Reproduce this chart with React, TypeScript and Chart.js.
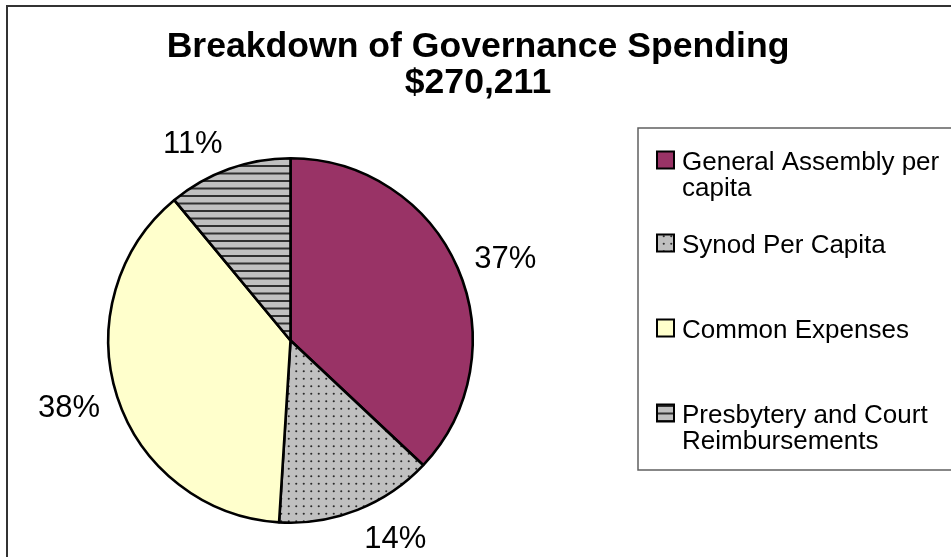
import { useEffect, useRef } from 'react';
import { Chart, registerables } from 'chart.js';

Chart.register(...registerables);

// ---- data ----
const titleLines = ['Breakdown of Governance Spending', '$270,211'];
const categories = [
  'General Assembly per capita',
  'Synod Per Capita',
  'Common Expenses',
  'Presbytery and Court Reimbursements',
];
const shares = [37, 14, 38, 11];

// ---- style ----
const FONT = "'Liberation Sans', Arial, Helvetica, sans-serif";
const PURPLE = '#993366';
const YELLOW = '#FFFFCC';
const GREY = '#C0C0C0';

function makeDots(): CanvasPattern | string {
  const c = document.createElement('canvas');
  c.width = 15;
  c.height = 15;
  const g = c.getContext('2d');
  if (!g) return GREY;
  g.fillStyle = GREY;
  g.fillRect(0, 0, 15, 15);
  g.fillStyle = '#2a2a2a';
  for (const px of [3.75, 11.25]) {
    for (const py of [3.75, 11.25]) {
      g.beginPath();
      g.arc(px, py, 1.05, 0, Math.PI * 2);
      g.fill();
    }
  }
  return g.createPattern(c, 'repeat') || GREY;
}

function makeStripes(): CanvasPattern | string {
  const c = document.createElement('canvas');
  c.width = 15;
  c.height = 15;
  const g = c.getContext('2d');
  if (!g) return GREY;
  g.fillStyle = GREY;
  g.fillRect(0, 0, 15, 15);
  g.fillStyle = '#303030';
  g.fillRect(0, 0, 15, 2);
  g.fillRect(0, 7.5, 15, 2);
  return g.createPattern(c, 'repeat') || GREY;
}

export default function App() {
  const ref = useRef<HTMLCanvasElement | null>(null);

  useEffect(() => {
    const canvas = ref.current;
    if (!canvas) return;
    const fills = [PURPLE, makeDots(), YELLOW, makeStripes()];

    const labelFont = 31;
    const legendFont = 26;
    const legendCenters = [160, 243, 328, 413];

    const decor = {
      id: 'decor',
      afterDatasetsDraw(chart: any) {
        const ctx: CanvasRenderingContext2D = chart.ctx;
        const meta = chart.getDatasetMeta(0);
        const values: number[] = chart.data.datasets[0].data;
        const total = values.reduce((a, b) => a + b, 0);
        ctx.save();
        ctx.fillStyle = '#000';
        ctx.font = `${labelFont}px ${FONT}`;
        meta.data.forEach((arc: any, i: number) => {
          const p = arc.getProps(['x', 'y', 'startAngle', 'endAngle', 'outerRadius'], true);
          const mid = (p.startAngle + p.endAngle) / 2;
          const dx = Math.cos(mid);
          const dy = Math.sin(mid);
          const ax = p.x + dx * (p.outerRadius + 18);
          const ay = p.y + dy * (p.outerRadius + 18);
          const txt = Math.round((values[i] / total) * 100) + '%';
          const capH = labelFont * 0.716;
          ctx.textAlign = dx >= 0 ? 'left' : 'right';
          ctx.textBaseline = 'alphabetic';
          const cy = ay + (dy * capH) / 2;
          ctx.fillText(txt, ax, cy + capH / 2);
        });
        ctx.restore();
      },
      afterDraw(chart: any) {
        const ctx: CanvasRenderingContext2D = chart.ctx;
        ctx.save();
        // outer border
        ctx.strokeStyle = '#333333';
        ctx.lineWidth = 2;
        ctx.beginPath();
        ctx.moveTo(960, 6);
        ctx.lineTo(7, 6);
        ctx.lineTo(7, 570);
        ctx.stroke();

        // title
        ctx.fillStyle = '#000';
        ctx.font = `bold 35.6px ${FONT}`;
        ctx.textAlign = 'center';
        ctx.textBaseline = 'alphabetic';
        titleLines.forEach((t, i) => ctx.fillText(t, 478, 57 + i * 36));

        // legend box
        ctx.strokeStyle = '#606060';
        ctx.lineWidth = 1.5;
        ctx.beginPath();
        ctx.moveTo(960, 128);
        ctx.lineTo(638, 128);
        ctx.lineTo(638, 470);
        ctx.lineTo(960, 470);
        ctx.stroke();

        // legend entries
        ctx.font = `${legendFont}px ${FONT}`;
        ctx.textAlign = 'left';
        const labels: string[] = chart.data.labels;
        const maxW = 262;
        labels.forEach((lab, i) => {
          const cy = legendCenters[i];
          ctx.fillStyle = fills[i] as any;
          ctx.fillRect(657, cy - 8.5, 17, 17);
          ctx.strokeStyle = '#000';
          ctx.lineWidth = 2;
          ctx.strokeRect(657, cy - 8.5, 17, 17);
          const words = lab.split(' ');
          const lines: string[] = [];
          let cur = '';
          words.forEach((w) => {
            const test = cur ? cur + ' ' + w : w;
            if (ctx.measureText(test).width > maxW && cur) {
              lines.push(cur);
              cur = w;
            } else cur = test;
          });
          if (cur) lines.push(cur);
          ctx.fillStyle = '#000';
          lines.forEach((ln, j) => ctx.fillText(ln, 682, cy + 9.5 + j * 26.5));
        });
        ctx.restore();
      },
    };

    const chart = new Chart(canvas, {
      type: 'pie',
      data: {
        labels: categories,
        datasets: [
          {
            data: shares,
            backgroundColor: fills as any,
            borderColor: '#000',
            borderWidth: 2.6,
          },
        ],
      },
      options: {
        animation: false,
        responsive: false,
        events: [],
        layout: { padding: { left: 107, top: 157, right: 477, bottom: 33 } },
        plugins: {
          legend: { display: false },
          tooltip: { enabled: false },
          title: { display: false },
        },
      },
      plugins: [decor],
    });
    return () => chart.destroy();
  }, []);

  return (
    <div style={{ position: 'fixed', left: 0, top: 0, width: 951, height: 557, background: '#fff' }}>
      <canvas ref={ref} width={951} height={557} style={{ display: 'block' }} />
    </div>
  );
}
